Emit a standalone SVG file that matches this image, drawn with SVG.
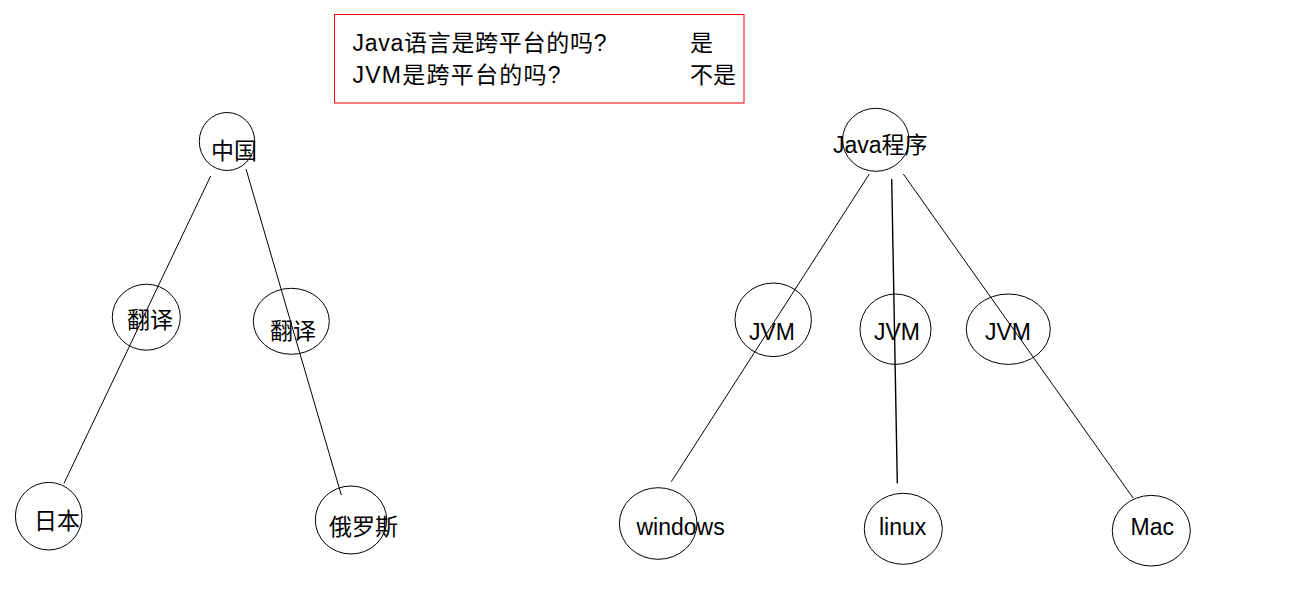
<svg xmlns="http://www.w3.org/2000/svg" width="1294" height="598" viewBox="0 0 1294 598">
<style>
text{font-family:"Liberation Sans","Noto Sans CJK SC",sans-serif;font-size:23px;fill:#000}
.n ellipse{fill:none;stroke:#000;stroke-width:1}
#connectors line{stroke:#000;stroke-width:1}
</style>
<rect width="1294" height="598" fill="#fff"/>
<g id="note">
<rect x="334.5" y="14.5" width="409.5" height="88.5" fill="none" stroke="#ff0000" stroke-width="1"/>
<text x="352.5" y="50.5" textLength="254" lengthAdjust="spacing">Java语言是跨平台的吗?</text>
<text x="690" y="50.5">是</text>
<text x="352.5" y="83" textLength="208" lengthAdjust="spacing">JVM是跨平台的吗?</text>
<text x="690" y="83">不是</text>
</g>
<g id="connectors">
<line x1="210.7" y1="176" x2="64" y2="483.3"/>
<line x1="246" y1="169" x2="341.3" y2="495"/>
<line x1="869.3" y1="174" x2="671.3" y2="481.7"/>
<line x1="891.7" y1="179" x2="897.3" y2="483.3" style="stroke-width:1.4"/>
<line x1="903.3" y1="174" x2="1133.3" y2="498.3"/>
</g>
<g id="n-china" class="n"><ellipse cx="227" cy="141.5" rx="27.7" ry="29"/><text x="211" y="159">中国</text></g>
<g id="n-fanyi1" class="n"><ellipse cx="146.3" cy="317.2" rx="34" ry="33"/><text x="127" y="328">翻译</text></g>
<g id="n-fanyi2" class="n"><ellipse cx="291.3" cy="321.3" rx="38" ry="33"/><text x="270" y="339">翻译</text></g>
<g id="n-japan" class="n"><ellipse cx="48.7" cy="516.2" rx="33.3" ry="33.8"/><text x="34" y="528.5">日本</text></g>
<g id="n-russia" class="n"><ellipse cx="351" cy="520" rx="35.7" ry="34"/><text x="329" y="535">俄罗斯</text></g>
<g id="n-java" class="n"><ellipse cx="875.8" cy="139.8" rx="33.2" ry="31.5"/><text x="833" y="153">Java程序</text></g>
<g id="n-jvm1" class="n"><ellipse cx="773.2" cy="319.8" rx="38.2" ry="36.8"/><text x="749" y="340">JVM</text></g>
<g id="n-jvm2" class="n"><ellipse cx="895.5" cy="329.2" rx="35.5" ry="35.2"/><text x="874" y="340">JVM</text></g>
<g id="n-jvm3" class="n"><ellipse cx="1008.3" cy="329.2" rx="42" ry="35.2"/><text x="985" y="340">JVM</text></g>
<g id="n-windows" class="n"><ellipse cx="658.2" cy="523.5" rx="38.8" ry="35.8"/><text x="636.5" y="535">windows</text></g>
<g id="n-linux" class="n"><ellipse cx="903.3" cy="528.8" rx="39" ry="35.5"/><text x="879" y="535">linux</text></g>
<g id="n-mac" class="n"><ellipse cx="1151.3" cy="530.7" rx="39" ry="35.3"/><text x="1130.5" y="535">Mac</text></g>
</svg>
